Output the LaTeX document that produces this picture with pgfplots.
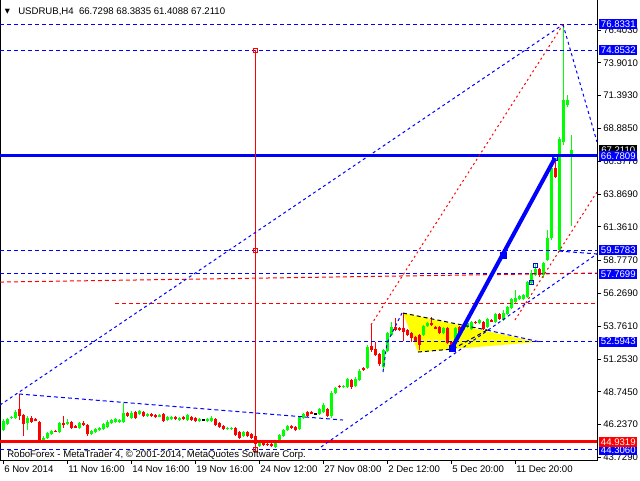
\documentclass[border=0pt]{standalone}
\usepackage{fontspec}
\setmainfont{Liberation Sans}
\newfontfamily\dejavu{DejaVu Sans}
\usepackage{pgfplots}
\usepackage{pgfplotstable}
\pgfplotsset{compat=1.18}
\definecolor{mtblue}{RGB}{0,0,255}
\definecolor{mtred}{RGB}{255,0,0}
\definecolor{mtgreen}{RGB}{0,255,0}
\definecolor{mtyellow}{RGB}{255,255,0}

\pgfplotstableread{
k O H L C g
0 45.83 46.67 45.75 46.52 1
1 46.29 46.75 46.21 46.67 1
2 46.75 46.90 46.67 46.82 1
3 46.75 47.36 46.67 47.20 1
4 47.43 48.58 46.59 46.90 0
5 46.97 47.05 45.37 46.29 0
6 46.36 46.90 45.83 46.75 1
7 46.75 46.90 46.36 46.44 0
8 46.67 46.75 46.52 46.59 0
9 46.44 46.52 44.83 44.91 0
10 44.91 45.37 44.83 45.22 1
11 45.22 45.68 45.14 45.60 1
12 45.52 45.83 45.45 45.75 1
13 45.75 45.80 45.64 45.68 0
14 45.68 46.44 45.60 46.36 1
15 46.36 46.90 45.98 46.21 0
16 46.29 46.67 46.21 46.44 1
17 46.44 46.52 45.91 45.98 0
18 46.13 46.21 45.98 46.06 0
19 45.98 46.44 45.91 46.36 1
20 46.36 46.52 46.13 46.21 0
21 46.21 46.29 45.37 45.52 0
22 45.52 45.83 45.45 45.75 1
23 45.68 45.98 45.60 45.91 1
24 45.83 46.06 45.75 45.98 1
25 45.91 46.36 45.83 46.29 1
26 46.06 46.59 45.98 46.44 1
27 46.36 46.67 46.29 46.59 1
28 46.44 46.75 46.36 46.67 1
29 46.44 46.67 46.36 46.59 1
30 46.44 47.89 46.36 47.13 1
31 47.13 47.20 46.82 46.90 0
32 46.75 47.28 46.67 47.13 1
33 47.20 47.28 46.67 46.75 0
34 47.05 47.36 46.97 47.28 1
35 47.20 47.28 46.82 46.90 0
36 46.90 47.13 46.82 47.05 1
37 47.05 47.13 46.82 46.90 0
38 46.97 47.05 46.75 46.82 0
39 46.90 47.05 46.82 46.97 1
40 47.05 47.13 46.44 46.52 0
41 46.59 46.90 46.52 46.82 1
42 46.67 46.90 46.59 46.82 1
43 46.82 46.90 46.59 46.67 0
44 46.59 46.82 46.52 46.75 1
45 46.82 46.90 46.59 46.67 0
46 46.59 47.05 46.52 46.97 1
47 46.82 46.90 46.52 46.59 0
48 46.75 46.82 46.44 46.52 0
49 46.52 46.75 46.44 46.67 1
50 46.59 46.67 46.52 46.60 2
51 46.52 46.75 46.44 46.67 1
52 46.52 46.90 46.44 46.75 1
53 46.67 46.75 46.13 46.21 0
54 46.36 46.44 45.98 46.06 0
55 46.13 46.21 45.83 45.91 0
56 45.91 46.06 45.83 45.98 1
57 45.91 46.06 45.83 45.98 1
58 45.98 46.06 45.37 45.45 0
59 45.68 45.75 45.14 45.22 0
60 45.37 45.75 45.29 45.68 1
61 45.68 45.75 45.29 45.37 0
62 45.52 45.60 45.14 45.22 0
63 45.37 45.45 44.60 44.76 0
64 44.60 44.99 44.53 44.91 1
65 44.83 44.91 44.60 44.68 0
66 44.76 44.83 44.60 44.68 0
67 44.76 44.83 44.53 44.60 0
68 44.53 45.06 44.45 44.99 1
69 44.99 45.52 44.91 45.45 1
70 45.37 45.91 45.29 45.83 1
71 45.83 46.21 45.75 46.13 1
72 46.13 46.21 45.91 45.98 0
73 46.06 46.13 45.75 45.83 0
74 45.91 46.90 45.83 46.82 1
75 46.75 47.13 46.67 47.05 1
76 47.20 47.28 46.82 46.90 0
77 47.20 47.28 47.05 47.13 0
78 47.05 47.13 46.97 47.06 2
79 47.05 47.51 46.97 47.43 1
80 47.20 47.89 47.13 47.74 1
81 47.43 47.51 46.82 46.90 0
82 46.90 48.81 46.75 48.66 1
83 48.66 49.12 48.58 49.04 1
84 49.19 49.27 49.04 49.12 0
85 49.12 49.27 49.04 49.19 1
86 49.12 49.80 49.04 49.73 1
87 49.65 49.73 48.96 49.12 0
88 49.19 49.88 49.12 49.73 1
89 49.65 50.49 49.57 50.34 1
90 50.57 50.64 50.34 50.42 0
91 50.57 52.33 50.49 52.17 1
92 52.25 53.86 51.79 51.94 0
93 52.02 52.56 51.48 51.56 0
94 51.64 51.71 50.72 50.87 0
95 50.64 52.02 50.42 51.94 1
96 51.87 53.32 51.79 53.24 1
97 53.09 54.09 53.02 53.70 1
98 53.70 54.39 53.40 53.47 0
99 53.63 53.70 53.40 53.47 0
100 53.63 54.77 52.63 53.32 0
101 53.47 53.55 53.02 53.09 0
102 53.24 53.32 52.56 52.86 0
103 52.94 53.02 52.56 52.63 0
104 53.09 53.17 51.94 52.33 0
105 53.09 53.86 53.02 53.78 1
106 53.78 54.09 53.70 54.01 1
107 54.01 54.47 53.78 53.86 0
108 53.70 53.78 53.55 53.63 0
109 53.70 53.78 53.17 53.24 0
110 53.24 53.70 53.17 53.63 1
111 53.63 53.70 52.40 52.48 0
112 52.56 52.63 52.10 52.17 0
113 52.56 53.70 52.48 53.63 1
114 53.70 53.78 53.24 53.32 0
115 53.47 53.78 53.40 53.70 1
116 53.70 54.24 53.63 54.01 1
117 53.55 54.16 53.47 54.09 1
118 54.09 54.16 53.93 54.01 0
119 54.01 54.31 53.93 54.24 1
120 54.09 54.16 53.47 53.55 0
121 53.70 54.39 53.63 54.31 1
122 54.24 54.31 54.09 54.16 0
123 54.09 54.77 54.01 54.70 1
124 54.70 54.77 54.24 54.31 0
125 54.24 55.00 54.16 54.77 1
126 54.70 55.31 54.62 55.23 1
127 55.16 55.92 55.08 55.84 1
128 55.61 56.53 55.53 55.92 1
129 55.84 56.15 55.77 56.07 1
130 55.84 56.23 55.77 56.15 1
131 56.00 57.22 55.92 57.14 1
132 57.07 58.06 56.99 57.83 1
133 57.68 58.60 57.60 58.14 1
134 58.14 58.21 57.53 57.68 0
135 57.68 58.67 57.45 58.60 1
136 58.83 61.12 58.76 60.51 1
137 60.51 65.86 60.36 65.86 1
138 65.86 66.55 65.10 65.17 0
139 59.59 68.23 59.51 68.08 1
140 67.85 76.83 67.62 71.06 1
141 70.68 71.44 70.52 71.06 1
142 66.7298 68.3835 61.4088 67.2110 1
}\candles

\tikzset{
  mtdash/.style={line width=0.75pt, dash pattern=on 3pt off 2.25pt},
  mtdot/.style={line width=0.75pt, dash pattern=on 2.25pt off 2.25pt},
  mtrdot/.style={line width=0.75pt, dash pattern=on 1.5pt off 2.25pt},
  lbl/.style={anchor=west, xshift=1.5pt, minimum width=28.5pt, minimum height=7.5pt,
    inner sep=0pt, text=white, font=\fontsize{7.2}{8}\selectfont},
}
\pgfplotsset{
  candle/.style n args={2}{only marks, mark=*, mark size=0pt,
    mark options={draw=none, fill=none}, forget plot,
    error bars/.cd, y dir=both, y explicit, error mark=none,
    error bar style={draw=#1, solid, line width=#2}},
}

\begin{document}
\begin{tikzpicture}
\fill[white] (0,-15pt) rectangle (480pt,345pt);
\begin{axis}[
  at={(0,0)}, anchor=south west,
  scale only axis, width=447.75pt, height=345pt,
  xmin=-0.75, xmax=148.5, ymin=43.534, ymax=78.706,
  clip mode=individual,
  axis line style={black, line width=0.75pt},
  ytick pos=right, yticklabel pos=right, xtick pos=bottom,
  tick align=outside, major tick length=3pt,
  tick style={black, line width=0.75pt},
  ytick={76.4030,73.9010,71.3930,68.8850,66.3770,63.8690,61.3610,58.7770,56.2690,53.7610,51.2530,48.7450,46.2370,43.7290},
  yticklabels={76.4030,73.9010,71.3930,68.8850,66.3770,63.8690,61.3610,58.7770,56.2690,53.7610,51.2530,48.7450,46.2370,43.7290},
  xtick={0,16,32,48,64,80,96,112,128},
  xticklabels={6 Nov 2014,11 Nov 16:00,14 Nov 16:00,19 Nov 16:00,24 Nov 12:00,27 Nov 08:00,2 Dec 12:00,5 Dec 20:00,11 Dec 20:00},
  ticklabel style={font=\fontsize{7.2}{8}\selectfont, text=black},
  yticklabel style={anchor=west, inner sep=0pt, xshift=1.5pt},
  xticklabel style={anchor=north west, inner sep=0pt, xshift=0.75pt, yshift=-1.5pt},
]
% yellow triangle
\addplot[fill=mtyellow, draw=none, forget plot] coordinates {(100,54.77) (103.75,51.79) (133.5,52.56)} -- cycle;

% candle wicks
\addplot[restrict expr to domain={\thisrow{g}}{0.5:1.5}, candle={mtgreen}{0.75pt}]
  table[x=k, y expr={(\thisrow{H}+\thisrow{L})/2}, y error expr={(\thisrow{H}-\thisrow{L})/2}]{\candles};
\addplot[restrict expr to domain={\thisrow{g}}{-0.5:0.5}, candle={mtred}{0.75pt}]
  table[x=k, y expr={(\thisrow{H}+\thisrow{L})/2}, y error expr={(\thisrow{H}-\thisrow{L})/2}]{\candles};
\addplot[restrict expr to domain={\thisrow{g}}{1.5:2.5}, candle={black}{0.75pt}]
  table[x=k, y expr={(\thisrow{H}+\thisrow{L})/2}, y error expr={(\thisrow{H}-\thisrow{L})/2}]{\candles};
% candle bodies
\addplot[restrict expr to domain={\thisrow{g}}{0.5:1.5}, candle={mtgreen}{2.25pt}]
  table[x=k, y expr={(\thisrow{O}+\thisrow{C})/2}, y error expr={max(abs(\thisrow{O}-\thisrow{C})/2,0.04)}]{\candles};
\addplot[restrict expr to domain={\thisrow{g}}{-0.5:0.5}, candle={mtred}{2.25pt}]
  table[x=k, y expr={(\thisrow{O}+\thisrow{C})/2}, y error expr={max(abs(\thisrow{O}-\thisrow{C})/2,0.04)}]{\candles};
\addplot[restrict expr to domain={\thisrow{g}}{1.5:2.5}, candle={black}{2.25pt}]
  table[x=k, y expr={(\thisrow{O}+\thisrow{C})/2}, y error expr={max(abs(\thisrow{O}-\thisrow{C})/2,0.04)}]{\candles};

% pattern outlines
\addplot[black, mtdash, forget plot] coordinates {(100,54.77) (121,53.47)};
\addplot[black, mtdash, forget plot] coordinates {(103.75,51.79) (112.5,52.02) (121,53.47)};
\addplot[mtblue, mtdash, forget plot] coordinates {(121,53.47) (134.25,52.56)};
\addplot[mtblue, mtdot, forget plot] coordinates {(95,50.26) (96,52.48) (99.75,54.77)};

% horizontal levels
\addplot[mtblue, mtdash, forget plot] coordinates {(-0.75,76.8331) (148.5,76.8331)};
\addplot[mtblue, mtdash, forget plot] coordinates {(-0.75,74.8532) (148.5,74.8532)};
\addplot[mtblue, mtdash, forget plot] coordinates {(-0.75,59.5783) (148.5,59.5783)};
\addplot[mtblue, mtdash, forget plot] coordinates {(-0.75,57.7699) (148.5,57.7699)};
\addplot[mtblue, mtdash, forget plot] coordinates {(-0.75,52.5943) (148.5,52.5943)};
\addplot[mtblue, mtdash, forget plot] coordinates {(-0.75,44.3060) (148.5,44.3060)};
\addplot[mtred, mtdash, forget plot] coordinates {(-0.75,57.14) (148.5,57.83)};
\addplot[mtred, mtdash, forget plot] coordinates {(28,55.52) (148.5,55.52)};
\addplot[mtblue, line width=2.25pt, forget plot] coordinates {(-0.75,66.7809) (148.5,66.7809)};
\addplot[mtred, line width=2.25pt, forget plot] coordinates {(-0.75,44.9319) (148.5,44.9319)};

% vertical line
\addplot[mtred, line width=0.75pt, forget plot] coordinates {(63,74.8532) (63,44.3060)};
\addplot[only marks, mark=square, mark size=1.5pt, mtred, mark options={line width=0.75pt, fill=white}, forget plot]
  coordinates {(63,74.8532) (63,59.5783) (63,44.3060)};

% trend lines
\addplot[mtblue, mtdot, forget plot] coordinates {(-0.75,47.74) (140,76.83)};
\addplot[mtblue, mtdot, forget plot] coordinates {(140,76.83) (148.5,67.85)};
\addplot[mtblue, mtdash, forget plot] coordinates {(4,48.58) (85,46.59)};
\addplot[mtblue, mtdot, forget plot] coordinates {(79.5,44.53) (148.5,59.29)};
\addplot[mtblue, mtdash, forget plot] coordinates {(139,59.51) (148.5,59.29)};
\addplot[mtred, mtrdot, forget plot] coordinates {(92,53.86) (140,76.83)};
\addplot[mtred, mtrdot, forget plot] coordinates {(128,54.24) (148.5,64.03)};

% projection line
\addplot[mtblue, line width=3pt, forget plot] coordinates {(112.25,52.10) (138,66.63)};
\addplot[only marks, mark=square*, mark size=2.25pt, mtblue, forget plot] coordinates {(112.25,52.10) (125,59.21)};
\addplot[only marks, mark=square, mark size=2pt, mtblue, mark options={line width=0.75pt}, forget plot] coordinates {(138,66.63)};
\addplot[only marks, mark=square, mark size=1.5pt, mtblue, mark options={line width=0.75pt}, forget plot] coordinates {(133,58.44) (132,57.07)};

% label anchors
\coordinate (b1) at (axis cs:148.5,76.8331);
\coordinate (b2) at (axis cs:148.5,74.8532);
\coordinate (b3) at (axis cs:148.5,67.2110);
\coordinate (b4) at (axis cs:148.5,66.7809);
\coordinate (b5) at (axis cs:148.5,59.5783);
\coordinate (b6) at (axis cs:148.5,57.7699);
\coordinate (b7) at (axis cs:148.5,52.5943);
\coordinate (b8) at (axis cs:148.5,44.3060);
\coordinate (b9) at (axis cs:148.5,44.9319);
\end{axis}

\node[lbl, fill=mtblue] at (b1) {76.8331};
\node[lbl, fill=mtblue] at (b2) {74.8532};
\node[lbl, fill=black] at (b3) {67.2110};
\node[lbl, fill=mtblue] at (b4) {66.7809};
\node[lbl, fill=mtblue] at (b5) {59.5783};
\node[lbl, fill=mtblue] at (b6) {57.7699};
\node[lbl, fill=mtblue] at (b7) {52.5943};
\node[lbl, fill=mtblue] at (b8) {44.3060};
\node[lbl, fill=mtred] at (b9) {44.9319};

\node[anchor=west, inner sep=0pt] at (3.5pt,336.2pt) {\dejavu\fontsize{5}{6}\selectfont ▼};
\node[anchor=west, inner sep=0pt, font=\fontsize{7.2}{8}\selectfont] at (13.5pt,336.2pt) {USDRUB,H4\ \ 66.7298 68.3835 61.4088 67.2110};
\node[anchor=west, inner sep=0pt, font=\fontsize{7.2}{8}\selectfont] at (5.25pt,3.9pt) {RoboForex - MetaTrader 4, © 2001-2014, MetaQuotes Software Corp.};

\pgfresetboundingbox
\useasboundingbox (0,-15pt) rectangle (480pt,345pt);
\end{tikzpicture}
\end{document}
